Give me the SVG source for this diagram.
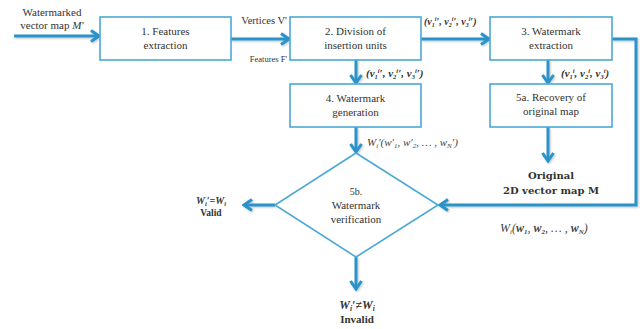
<svg xmlns="http://www.w3.org/2000/svg" width="640" height="329" viewBox="0 0 640 329">
<defs>
<marker id="ah" viewBox="0 0 12 14" refX="10" refY="7" markerWidth="12" markerHeight="14" markerUnits="userSpaceOnUse" orient="auto">
<path d="M2,1.5 L10,7 L2,12.5" fill="none" stroke="#2a93c9" stroke-width="3"/>
</marker>
<filter id="sh" filterUnits="userSpaceOnUse" x="0" y="0" width="640" height="329">
<feDropShadow dx="1" dy="1" stdDeviation="0.8" flood-color="#000" flood-opacity="0.25"/>
</filter>
</defs>
<style>
.box{fill:#fff;stroke:#4aa8d6;stroke-width:1.6}
.con{fill:none;stroke:#2a93c9;stroke-width:3;filter:url(#sh)}
.t{font-family:"Liberation Serif",serif;font-size:11px;fill:#333;text-anchor:middle}
.s{font-family:"Liberation Serif",serif;font-size:10px;fill:#333}
.m{font-family:"Liberation Serif",serif;font-size:10px;fill:#333;font-style:italic;font-weight:bold}
.mi{font-family:"Liberation Serif",serif;font-size:10px;fill:#444;font-style:italic}
.b{font-family:"DejaVu Serif",serif;font-size:10px;fill:#333;font-weight:bold;text-anchor:middle}
.bs{font-family:"Liberation Serif",serif;font-size:10px;fill:#333;font-weight:bold;text-anchor:middle}
</style>
<g id="connectors">
<line class="con" x1="14" y1="36" x2="99" y2="36" marker-end="url(#ah)"/>
<line class="con" x1="231" y1="39" x2="289" y2="39" marker-end="url(#ah)"/>
<line class="con" x1="421" y1="39" x2="489" y2="39" marker-end="url(#ah)"/>
<line class="con" x1="356" y1="60" x2="356" y2="83" marker-end="url(#ah)"/>
<line class="con" x1="548" y1="60" x2="548" y2="83" marker-end="url(#ah)"/>
<line class="con" x1="548" y1="127" x2="548" y2="161" marker-end="url(#ah)"/>
<line class="con" x1="356" y1="127" x2="356" y2="152" marker-end="url(#ah)"/>
<polyline class="con" points="612,39 636,39 636,205 440,205" marker-end="url(#ah)"/>
<line class="con" x1="275" y1="205" x2="244" y2="205" marker-end="url(#ah)"/>
<line class="con" x1="356" y1="257" x2="356" y2="289" marker-end="url(#ah)"/>
</g>
<g id="n1">
<rect class="box" x="100" y="17" width="131" height="43"/>
<text class="t" x="165.5" y="35">1. Features</text>
<text class="t" x="165.5" y="49">extraction</text>
</g>
<g id="n2">
<rect class="box" x="290" y="17" width="131" height="43"/>
<text class="t" x="355.5" y="35">2. Division of</text>
<text class="t" x="355.5" y="49">insertion units</text>
</g>
<g id="n3">
<rect class="box" x="490" y="17" width="122" height="43"/>
<text class="t" x="551" y="35">3. Watermark</text>
<text class="t" x="551" y="49">extraction</text>
</g>
<g id="n4">
<rect class="box" x="290" y="84" width="131" height="43"/>
<text class="t" x="355.5" y="102">4. Watermark</text>
<text class="t" x="355.5" y="116">generation</text>
</g>
<g id="n5a">
<rect class="box" x="490" y="84" width="122" height="43"/>
<text class="t" x="551" y="101">5a. Recovery of</text>
<text class="t" x="551" y="115">original map</text>
</g>
<g id="n5b">
<polygon class="box" points="356,153 438,205 356,257 275,205"/>
<text class="t" x="356" y="195" style="font-size:10px">5b.</text>
<text class="t" x="356" y="209">Watermark</text>
<text class="t" x="356" y="223">verification</text>
</g>
<g id="labels">
<text class="t" x="52" y="16">Watermarked</text>
<text class="t" x="52" y="29">vector map <tspan font-style="italic">M'</tspan></text>
<text class="s" x="287" y="24" text-anchor="end" style="font-size:10.5px">Vertices V'</text>
<text class="s" x="287" y="62" text-anchor="end" style="font-size:8.5px">Features F'</text>
<text class="m" x="424" y="25">(v<tspan font-size="6" dy="2">1</tspan><tspan font-size="6" dy="-6">i</tspan><tspan dy="4">′, v</tspan><tspan font-size="6" dy="2">2</tspan><tspan font-size="6" dy="-6">i</tspan><tspan dy="4">′, v</tspan><tspan font-size="6" dy="2">3</tspan><tspan font-size="6" dy="-6">i</tspan><tspan dy="4">′)</tspan></text>
<text class="m" x="366" y="77" style="font-size:11px">(v<tspan font-size="6.5" dy="2">1</tspan><tspan font-size="6.5" dy="-6">i</tspan><tspan dy="4">′, v</tspan><tspan font-size="6.5" dy="2">2</tspan><tspan font-size="6.5" dy="-6">i</tspan><tspan dy="4">′, v</tspan><tspan font-size="6.5" dy="2">3</tspan><tspan font-size="6.5" dy="-6">i</tspan><tspan dy="4">′)</tspan></text>
<text class="m" x="561" y="77" style="font-size:11px">(v<tspan font-size="6.5" dy="2">1</tspan><tspan font-size="6.5" dy="-6">i</tspan><tspan dy="4">, v</tspan><tspan font-size="6.5" dy="2">2</tspan><tspan font-size="6.5" dy="-6">i</tspan><tspan dy="4">, v</tspan><tspan font-size="6.5" dy="2">3</tspan><tspan font-size="6.5" dy="-6">i</tspan><tspan dy="4">)</tspan></text>
<text class="mi" x="367" y="146" style="font-size:11px">W<tspan font-size="7" dy="2">i</tspan><tspan dy="-2">′(w′</tspan><tspan font-size="7" dy="2">1</tspan><tspan dy="-2">, w′</tspan><tspan font-size="7" dy="2">2</tspan><tspan dy="-2">, … , w</tspan><tspan font-size="7" dy="2">N</tspan><tspan dy="-2">′)</tspan></text>
<text class="b" x="551" y="179">Original</text>
<text class="b" x="551" y="194">2D vector  map  M</text>
<text class="mi" x="500" y="232" style="font-size:12px">W<tspan font-size="7" dy="2">i</tspan><tspan dy="-2">(</tspan><tspan font-weight="bold">w</tspan><tspan font-size="7" font-weight="bold" dy="2">1</tspan><tspan dy="-2">, </tspan><tspan font-weight="bold">w</tspan><tspan font-size="7" font-weight="bold" dy="2">2</tspan><tspan dy="-2">, … , </tspan><tspan font-weight="bold">w</tspan><tspan font-size="7" font-weight="bold" dy="2">N</tspan><tspan dy="-2">)</tspan></text>
<text class="m" x="211" y="204" text-anchor="middle" style="font-size:10px">W<tspan font-size="6.5" dy="2">i</tspan><tspan dy="-2">′=W</tspan><tspan font-size="6.5" dy="2">i</tspan></text>
<text class="bs" x="211" y="216" style="font-size:9.5px">Valid</text>
<text class="m" x="357" y="309" text-anchor="middle" style="font-size:12px">W<tspan font-size="7.5" dy="2">i</tspan><tspan dy="-2">′≠W</tspan><tspan font-size="7.5" dy="2">i</tspan></text>
<text class="bs" x="357" y="323" style="font-size:11px">Invalid</text>
</g>
</svg>
